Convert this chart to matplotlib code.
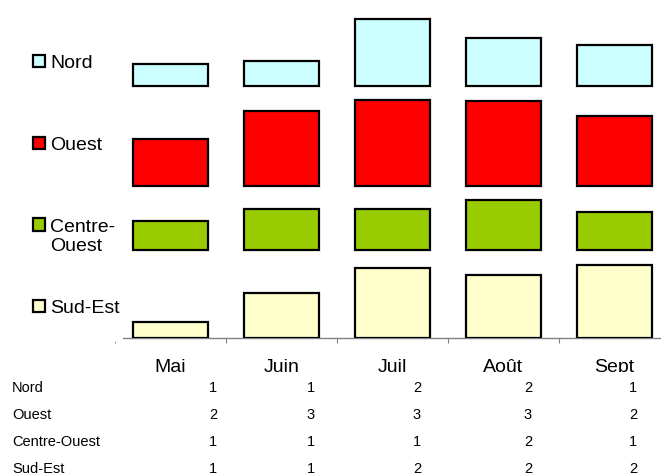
import matplotlib.pyplot as plt
from matplotlib.patches import Rectangle
import numpy as np

# données (le tableau les affiche arrondies)
mois = ["Mai", "Juin", "Juil", "Août", "Sept"]
series = ["Nord", "Ouest", "Centre-Ouest", "Sud-Est"]
nord = [0.73, 0.84, 2.25, 1.62, 1.36]
ouest = [1.56, 2.51, 2.87, 2.83, 2.33]
centre_ouest = [0.97, 1.37, 1.37, 1.67, 1.27]
sud_est = [0.54, 1.49, 2.35, 2.12, 2.45]

couleurs = {
    "Nord": "#CCFFFF",
    "Ouest": "#FF0000",
    "Centre-Ouest": "#99CC00",
    "Sud-Est": "#FFFFCC",
}
valeurs = {
    "Nord": nord,
    "Ouest": ouest,
    "Centre-Ouest": centre_ouest,
    "Sud-Est": sud_est,
}

plt.rcParams["font.family"] = ["Liberation Sans", "DejaVu Sans"]

W, H = 661, 475
fig = plt.figure(figsize=(W / 100, H / 100), dpi=100)


def fx(px):
    return px / W


def fy(py):
    return 1 - py / H


# axe principal (déborde à droite comme dans l'original)
ax = fig.add_axes([fx(115), fy(338), fx(555), 338 / H])
ax.set_xlim(-0.5, 4.5)
ax.set_ylim(0, 338 / 29.9)

x = np.arange(len(mois))
ecart = 0.48

# chaque série sur sa propre bande, empilées de bas en haut
base = 0.0
for nom in ["Sud-Est", "Centre-Ouest", "Ouest", "Nord"]:
    v = valeurs[nom]
    ax.bar(
        x,
        v,
        bottom=base,
        width=0.675,
        color=couleurs[nom],
        edgecolor="black",
        linewidth=1.6,
        zorder=3,
    )
    base += max(v) + ecart

for s in ["top", "right", "left"]:
    ax.spines[s].set_visible(False)
ax.spines["bottom"].set_color("#808080")
ax.spines["bottom"].set_linewidth(1.0)
ax.set_yticks([])

ax.set_xticks(np.arange(-0.5, 5.0, 1.0))
ax.set_xticklabels([])
ax.tick_params(axis="x", which="major", direction="out", length=3.6,
               width=0.8, color="#808080")
ax.set_xticks(x, minor=True)
ax.set_xticklabels(mois, minor=True, fontsize=14)
ax.tick_params(axis="x", which="minor", length=0, pad=15)

# fond blanc de la légende (masque le début de l'axe)
fig.patches.append(Rectangle((0, fy(342)), fx(123), fy(40) - fy(342),
                             transform=fig.transFigure, facecolor="white",
                             edgecolor="none", zorder=5))
# zone du tableau (coupe le bas des libellés des mois)
fig.patches.append(Rectangle((0, 0), 1, fy(372),
                             transform=fig.transFigure, facecolor="white",
                             edgecolor="none", zorder=5))

# légende
leg_y = [61, 142.5, 224.5, 306]
leg_txt = ["Nord", "Ouest", "Centre-\nOuest", "Sud-Est"]
for nom, yy, t in zip(series, leg_y, leg_txt):
    fig.patches.append(Rectangle((fx(32.5), fy(yy + 6)), fx(12), fy(yy - 6) - fy(yy + 6),
                                 transform=fig.transFigure,
                                 facecolor=couleurs[nom], edgecolor="black",
                                 linewidth=1.6, zorder=6))
    fig.text(fx(50), fy(yy - 6), t, fontsize=14, ha="left", va="top",
             linespacing=1.2, zorder=7)

# tableau de données
rangs_y = [388, 415, 442, 469]
cols_x = [217, 315, 421, 532, 637]
for nom, yy in zip(series, rangs_y):
    fig.text(fx(12), fy(yy), nom, fontsize=10.5, ha="left", va="center", zorder=7)
    for xx, v in zip(cols_x, valeurs[nom]):
        fig.text(fx(xx), fy(yy), f"{v:.0f}", fontsize=10.5, ha="right",
                 va="center", zorder=7)

fig.savefig("out.png", dpi=100)
